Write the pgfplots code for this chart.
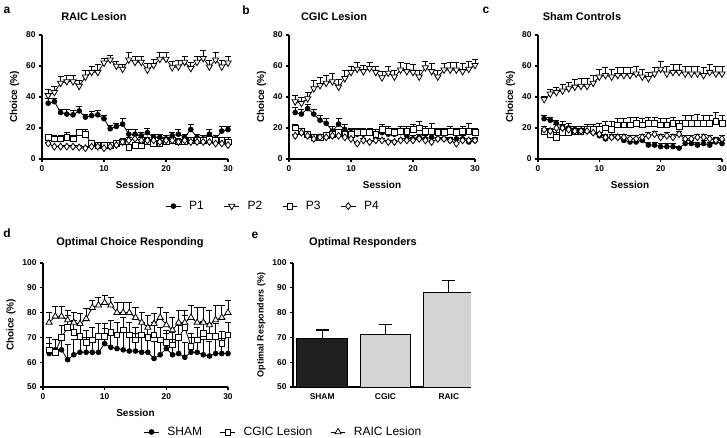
\documentclass[border=0pt]{standalone}
\usepackage{fontspec}
\setmainfont{Liberation Sans}
\usepackage{pgfplots}
\usepackage{pgfplotstable}
\pgfplotsset{compat=1.18}

\pgfplotstableread{
s p1 e1 p2 e2 p3 e3 p4 e4
1 36 3 41 4 14 2 10 1
2 37 2 43 4 13 2 8 1
3 30 2 49 4 13 2 8 1
4 29 3 50 4 14 3 8 1
5 28.5 3 50 4 13 2 8 1
6 31 3 47 4 17 2 7.5 1
7 27 2 53 4 16 3 7 1
8 28 3 56 4 10 2 8 1
9 28.5 3 56 5 9 2 8 1
10 26 2 62 3 9 2 7 1
11 19.5 2 64 3 9 2 8 1
12 21 2 60 3 10 2 9 1
13 22.5 4 58 3 11 2 11 2
14 16 3 64 5 7.5 2 12 2
15 16 3 62.5 4 9 2 13 2
16 15 2 62.5 4 8.5 2 12 2
17 17 3 57.5 4 11 2 12 2
18 14 2 60.5 4 10 2 12 2
19 14 2 64.5 4 10 2 11 2
20 13 2 64.5 4 11 2 12 2
21 15 2 59 4 12 2 12 2
22 16 3 59.5 4 11 2 11 2
23 14 2 62.5 4 11 2 12 2
24 19 3 58.5 4 12 2 11 2
25 14 2 62.5 4 12 2 11 2
26 13 2 65 5 12 2 11 2
27 16 3 59.5 4 13 2 11 2
28 13 2 64 5 12 2 10 2
29 18 3 59.5 4 12 2 10 2
30 19 2 62 4 11 3 9 1
}\tabA

\pgfplotstableread{
s p1 e1 p2 e2 p3 e3 p4 e4
1 30 3 37 4 20 2 15 1
2 29 3 36 4 18 2 17 1
3 32.5 3 39 4 16 2 15 1
4 29 3 45.5 5 14 2 13 1
5 25 3 47.5 5 14 2 14 1
6 23 3 49 5 15 2 14 1
7 18 3 50 5 16 2 15 1
8 22.5 4 46.5 5 17 2 15 1
9 19 3 52 5 16 2 14 1
10 17 3 56 4 16 3 13 1
11 16 2 58 4 17 3 10 1
12 16 2 56.5 4 17 3 12 1
13 17 2 58.5 4 17 3 11 1
14 16 2 56 4 16 3 12 1
15 17 2 52.5 4 19 3 12 1
16 16 2 55.5 4 18 3 11 1
17 16 2 53 4 17 3 11 1
18 17 2 57.5 5 18 3 12 1
19 15 2 56.5 5 18 3 12 1
20 13 2 56 5 19 3 12 1
21 14 2 53 4 20 4 13 1
22 13 2 59 4 18 3 12 1
23 14 2 56.5 5 18 5 11 1
24 13 2 53 4 17 3 13 1
25 13 2 57.5 4 17 3 13 1
26 12 2 57.5 5 18 3 12 1
27 13 2 57.5 5 17 3 10 1
28 13 2 56.5 5 18 3 12 1
29 11 2 58 5 18 5 12 1
30 12 2 60.5 4 17 3 12 1
}\tabB

\pgfplotstableread{
s p1 e1 p2 e2 p3 e3 p4 e4
1 26 2 38.5 2 18 3 19 2
2 25 2 42 3 16 3 18 2
3 23 2 43 3 14 3 20 2
4 21 3 44 4 17 3 20 2
5 20 3 45.5 4 17 3 19 2
6 19 2 46.5 5 18 3 18 2
7 18 2 47 5 18 3 18 2
8 18 2 47 5 19 3 18 2
9 17 2 49 5 19 3 17 2
10 15 2 53 5 19 4 16 2
11 13 2 54 5 20 4 14 2
12 14 2 53 5 19 5 14 2
13 14 2 54 5 22 4 14 2
14 12 2 54 5 22 4 14 2
15 11 2 54 5 22 5 13 2
16 11 2 55 5 23 4 13 2
17 12 2 53 5 22 4 14 2
18 9 2 52 4 23 4 15 2
19 9 2 55 4 23 4 16 2
20 8 2 58 5 22 4 14 2
21 8 2 55 5 22 4 15 2
22 8 2 56 5 23 4 14 2
23 7 1 56 5 21 4 16 2
24 10 2 55 5 23 5 13 2
25 10 2 55 5 23 5 13 2
26 9 2 55 5 23 6 14 2
27 10 2 54 5 23 5 14 2
28 9 2 56 5 23 5 13 2
29 11 2 55 5 24 6 12 2
30 10 2 55 5 23 5 13 2
}\tabC

\pgfplotstableread{
s sh esh cg ecg ra era
1 63.5 4 65 5 76 4
2 65 4 64 5 78.5 4
3 65 4 70 5 78.5 4
4 61 6 74 5 77 4
5 63 6 72 5 76 4
6 64 6 70.5 5 75.5 4
7 64 6 68 5 77.5 4
8 64 6 69 5 82 3
9 64 7 70.5 5 83 3
10 67.5 6 70.5 5 84 3
11 66 6 72 5 83 3
12 65.5 6 71 5 80 4
13 65 7 73 5 80 4
14 64.5 7 71 5 80 4
15 64.5 7 69 5 78 4
16 64 7 71 5 76 4
17 64 6 70 5 74 5
18 61.5 7 71 5 75.5 4
19 63 6 69 5 78 4
20 65.5 6 68 5 75 5
21 63 6 67 5 73 5
22 63.5 6 70 5 76 5
23 62 6 74 5 76 5
24 64 6 66.5 5 78 5
25 64 6 69 5 76 6
26 63 6 71.5 5 76 6
27 62.5 6 70.5 5 75 6
28 63.5 6 70.5 5 77 6
29 63.5 6 67.5 5 78 5
30 63.5 7 71 5 80 5
}\tabD

\pgfplotsset{
  panel/.style={
    scale only axis,
    axis lines=left,
    axis line style={-, black, line width=1.1pt},
    tick style={black, line width=1.1pt},
    tick align=outside,
    major tick length=3pt,
    minor tick num=0,
    tick label style={font=\bfseries\fontsize{8.4}{9}\selectfont},
    label style={font=\bfseries\fontsize{10}{11}\selectfont},
    xlabel style={yshift=-3pt},
    /pgf/number format/assume math mode=true,
    clip=false,
  },
  sess/.style={panel, width=186pt, height=124pt, xmin=0, xmax=30, xtick={0,10,20,30},
    xlabel={Session}, ylabel={Choice (\%)}},
  errb/.style={error bars/y dir=plus, error bars/y explicit,
    error bars/error bar style={black, line width=0.8pt},
    error bars/error mark options={black, rotate=90, line width=0.8pt, mark size=3pt}},
  sA/.style={black, line width=0.8pt, mark=*, mark size=2.4pt, mark options={solid, fill=black}, errb},
  sB/.style={black, line width=0.8pt, mark=triangle*, mark size=3.6pt, mark options={solid, fill=white, rotate=180}, errb},
  sC/.style={black, line width=0.8pt, mark=square*, mark size=2.9pt, mark options={solid, fill=white}, errb},
  sD/.style={black, line width=0.8pt, mark=diamond*, mark size=3.4pt, mark options={solid, fill=white}, errb},
  sE/.style={black, line width=0.8pt, mark=triangle*, mark size=3.6pt, mark options={solid, fill=white}, errb},
  legimg/.style={legend image code/.code={\draw[mark repeat=2,mark phase=2,##1] plot coordinates {(0cm,0cm) (0.26cm,0cm) (0.52cm,0cm)};}},
  berr/.style={error bars/y dir=plus, error bars/y explicit,
    error bars/error bar style={black, line width=1.1pt},
    error bars/error mark options={black, rotate=90, line width=1.1pt, mark size=6.5pt}},
}

\begin{document}
\begin{tikzpicture}
\useasboundingbox (0pt,0pt) rectangle (727pt,-438pt);

% panel letters and titles
\node[font=\bfseries\fontsize{12}{14}\selectfont, anchor=center] at (7pt,-10pt) {a};
\node[font=\bfseries\fontsize{12}{14}\selectfont, anchor=center] at (246pt,-10pt) {b};
\node[font=\bfseries\fontsize{12}{14}\selectfont, anchor=center] at (486pt,-10pt) {c};
\node[font=\bfseries\fontsize{12}{14}\selectfont, anchor=center] at (7pt,-233pt) {d};
\node[font=\bfseries\fontsize{12}{14}\selectfont, anchor=center] at (255pt,-235pt) {e};
\node[font=\bfseries\fontsize{11}{13}\selectfont] at (94pt,-17pt) {RAIC Lesion};
\node[font=\bfseries\fontsize{11}{13}\selectfont] at (334pt,-17pt) {CGIC Lesion};
\node[font=\bfseries\fontsize{11}{13}\selectfont] at (582pt,-17pt) {Sham Controls};
\node[font=\bfseries\fontsize{11}{13}\selectfont] at (130pt,-243pt) {Optimal Choice Responding};
\node[font=\bfseries\fontsize{11}{13}\selectfont] at (363pt,-243pt) {Optimal Responders};

% panel a
\begin{axis}[sess, at={(42pt,-159pt)}, anchor=south west, ymin=0, ymax=80, ytick={0,20,40,60,80}]
\addplot[sA] table[x=s, y=p1, y error=e1] {\tabA};
\addplot[sB] table[x=s, y=p2, y error=e2] {\tabA};
\addplot[sC] table[x=s, y=p3, y error=e3] {\tabA};
\addplot[sD] table[x=s, y=p4, y error=e4] {\tabA};
\end{axis}

% panel b
\begin{axis}[sess, at={(289pt,-159pt)}, anchor=south west, ymin=0, ymax=80, ytick={0,20,40,60,80},
  legimg,
  legend columns=4,
  legend style={draw=none, fill=none, at={(-0.085,-0.38)}, anchor=center,
    font=\fontsize{12}{13}\selectfont,
    /tikz/every odd column/.append style={column sep=6pt},
    /tikz/every even column/.append style={column sep=18pt}},
  ]
\addplot[sA] table[x=s, y=p1, y error=e1] {\tabB};
\addlegendentry{P1}
\addplot[sB] table[x=s, y=p2, y error=e2] {\tabB};
\addlegendentry{P2}
\addplot[sC] table[x=s, y=p3, y error=e3] {\tabB};
\addlegendentry{P3}
\addplot[sD] table[x=s, y=p4, y error=e4] {\tabB};
\addlegendentry{P4}
\end{axis}

% panel c
\begin{axis}[sess, at={(538pt,-159pt)}, anchor=south west, width=184pt, ymin=0, ymax=80, ytick={0,20,40,60,80}]
\addplot[sA] table[x=s, y=p1, y error=e1] {\tabC};
\addplot[sB] table[x=s, y=p2, y error=e2] {\tabC};
\addplot[sC] table[x=s, y=p3, y error=e3] {\tabC};
\addplot[sD] table[x=s, y=p4, y error=e4] {\tabC};
\end{axis}

% panel d
\begin{axis}[sess, at={(43pt,-387pt)}, anchor=south west, width=185pt, ymin=50, ymax=100, ytick={50,60,70,80,90,100},
  legimg,
  legend columns=3,
  legend style={draw=none, fill=none, at={(1.30,-0.363)}, anchor=center,
    font=\fontsize{12}{13}\selectfont,
    /tikz/every odd column/.append style={column sep=6pt},
    /tikz/every even column/.append style={column sep=16pt}},
  ]
\addplot[sA] table[x=s, y=sh, y error=esh] {\tabD};
\addlegendentry{SHAM}
\addplot[sC] table[x=s, y=cg, y error=ecg] {\tabD};
\addlegendentry{CGIC Lesion}
\addplot[sE] table[x=s, y=ra, y error=era] {\tabD};
\addlegendentry{RAIC Lesion}
\end{axis}

% panel e
\begin{axis}[panel, at={(293pt,-387pt)}, anchor=south west, width=178pt, height=124pt,
  xmin=0.54, xmax=3.35, ymin=50, ymax=100, ytick={50,60,70,80,90,100},
  xtick={1,2,3}, xticklabels={SHAM,CGIC,RAIC}, x tick style={draw=none},
  ylabel={Optimal Responders (\%)}, ylabel style={font=\bfseries\fontsize{9}{10}\selectfont},
  ybar, bar width=0.8, clip=true]
\addplot[fill=black!88, draw=black, line width=1pt, bar shift=0pt, berr] coordinates {(1,69.5) +- (0,3.5)};
\addplot[fill=black!17, draw=black, line width=1pt, bar shift=0pt, berr] coordinates {(2,71.3) +- (0,3.9)};
\addplot[fill=black!17, draw=black, line width=1pt, bar shift=0pt, berr] coordinates {(3,88) +- (0,5)};
\end{axis}
\end{tikzpicture}
\end{document}
